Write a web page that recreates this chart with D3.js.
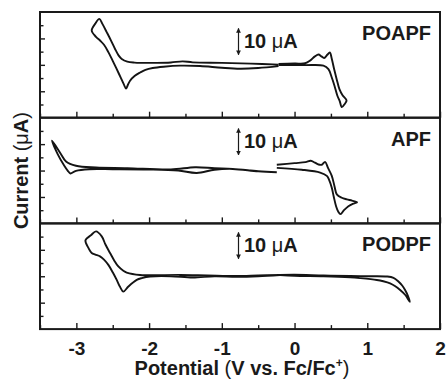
<!DOCTYPE html>
<html>
<head>
<meta charset="utf-8">
<script src="https://cdn.jsdelivr.net/npm/d3@7"></script>
<style>
  body { margin: 0; background: #fff; }
  text { font-family: "Liberation Sans", Arial, sans-serif; font-weight: bold; fill: #1a1a1a; }
</style>
</head>
<body>
<div id="graph"></div>
<script>
//Size of the picture.
let w = 446
let h = 381

//Plot frame.
let plotLeft = 40
let plotRight = 440
let plotTop = 12
let panelH = 105.7

//Panel names, top to bottom.
let panelNames = ["POAPF", "APF", "PODPF"]

//Tick values for the potential axis.
let xMajor = [-3, -2, -1, 0, 1, 2]
let xMinor = [-3.5, -2.5, -1.5, -0.5, 0.5, 1.5]

//Tick values for the current axis (uA).
let yMajor = [-10, 0, 10]
let yMinor = [-15, -5, 5, 15]

//Scale bar of each panel: centre of the 10 uA arrow (uA).
let scaleBarAt = [8.8, 10.9, 11.6]

//POAPF, scan from -0.2 V to negative and back.
let poapfNeg = [
  [-0.22, -0.5], [-0.5, -1.2], [-0.75, -1.45], [-1.0, -1.1], [-1.3, -0.45], [-1.574, -0.3],
  [-1.8, -0.7], [-1.95, -1.2], [-2.05, -1.9], [-2.124, -2.9], [-2.2, -4.2], [-2.262, -6.0],
  [-2.295, -7.8], [-2.317, -9.0], [-2.35, -7.2], [-2.423, -2.9], [-2.5, 1.5], [-2.56, 4.8],
  [-2.62, 7.6], [-2.675, 9.2], [-2.73, 10.6], [-2.789, 13.0], [-2.74, 15.6], [-2.684, 17.4],
  [-2.64, 15.4], [-2.583, 12.4], [-2.52, 9.0], [-2.468, 6.0], [-2.42, 3.6], [-2.376, 2.2],
  [-2.3, 1.2], [-2.2, 0.85], [-1.9, 0.75], [-1.7, 0.9], [-1.54, 1.33], [-1.4, 0.95],
  [-1.0, 0.75], [-0.6, 0.45], [-0.22, 0.1]
]

//POAPF, scan from -0.2 V to positive and back.
let poapfPos = [
  [-0.22, 0.3], [0.0, 0.5], [0.145, 0.6], [0.214, 1.6], [0.28, 3.2], [0.33, 3.9],
  [0.37, 3.2], [0.406, 2.6], [0.45, 3.8], [0.485, 4.7], [0.51, 2.5], [0.544, -1.6],
  [0.58, -5.5], [0.617, -9.2], [0.66, -11.5], [0.715, -13.5], [0.69, -14.8], [0.65, -16.0],
  [0.62, -13.6], [0.589, -11.7], [0.55, -8.0], [0.512, -4.8], [0.466, -1.6], [0.397, -0.3],
  [0.145, -0.1], [-0.22, -0.1]
]

//APF, negative scan.
let apfNeg = [
  [-0.244, -0.63], [-0.5, -0.3], [-0.85, 0.6], [-1.1, 0.3], [-1.345, -0.9], [-1.6, 0.0],
  [-2.0, 0.4], [-2.5, 0.5], [-2.822, 0.5], [-3.005, -0.1], [-3.083, -1.1], [-3.12, 0.0],
  [-3.166, 1.8], [-3.257, 6.2], [-3.335, 11.3], [-3.211, 6.2], [-3.142, 3.4], [-3.005, 1.8],
  [-2.73, 1.14], [-2.3, 0.9], [-1.7, 0.4], [-1.368, 1.27], [-1.1, 0.9], [-0.85, 0.63],
  [-0.5, -0.2], [-0.244, -0.63]
]

//APF, positive scan.
let apfPos = [
  [-0.244, 2.2], [0.0, 2.8], [0.15, 3.2], [0.223, 3.7], [0.28, 3.0], [0.33, 2.3],
  [0.375, 2.2], [0.42, 3.3], [0.46, 1.0], [0.512, -2.0], [0.55, -6.0], [0.581, -9.0],
  [0.65, -10.3], [0.719, -10.9], [0.79, -11.4], [0.86, -12.0], [0.8, -12.6], [0.741, -13.5],
  [0.68, -15.0], [0.632, -16.5], [0.6, -15.5], [0.571, -13.5], [0.54, -10.0], [0.512, -6.5],
  [0.475, -3.5], [0.444, -2.0], [0.352, -0.76], [0.1, 0.3], [-0.244, 1.0]
]

//PODPF, negative scan.
let podpfNeg = [
  [-0.2, 0.5], [-0.5, 0.0], [-0.8, -0.2], [-1.1, 0.0], [-1.4, -0.5], [-1.7, 0.0],
  [-1.987, -0.1], [-2.1, -0.7], [-2.17, -1.4], [-2.285, -3.9], [-2.354, -5.8], [-2.4, -4.0],
  [-2.445, -1.4], [-2.5, 1.5], [-2.56, 4.3], [-2.62, 6.3], [-2.675, 7.5], [-2.74, 8.2],
  [-2.789, 8.8], [-2.84, 11.0], [-2.875, 13.6], [-2.8, 15.5], [-2.73, 17.0], [-2.651, 15.1],
  [-2.6, 12.0], [-2.537, 8.8], [-2.48, 6.0], [-2.423, 3.7], [-2.35, 2.0], [-2.308, 1.4],
  [-2.124, 0.5], [-1.574, 0.5], [-1.2, 0.3], [-0.8, 0.1], [-0.5, 0.3], [-0.2, 0.5]
]

//PODPF, positive scan.
let podpfPos = [
  [-0.2, 0.5], [0.0, 0.6], [0.4, 0.3], [0.764, 0.1], [1.0, 0.0], [1.269, -0.1],
  [1.36, -0.6], [1.428, -2.0], [1.48, -3.5], [1.52, -5.2], [1.56, -7.5], [1.585, -9.7],
  [1.52, -7.0], [1.452, -5.2], [1.38, -3.7], [1.314, -2.7], [1.22, -1.9], [1.131, -1.4],
  [0.9, -0.7], [0.764, -0.4], [0.4, 0.0], [0.0, 0.2], [-0.2, 0.5]
]

//Scans belonging to each panel.
let panelScans = [[poapfNeg, poapfPos], [apfNeg, apfPos], [podpfNeg, podpfPos]]

const svg = d3.select("#graph")
              .append("svg")
              .attr("width", w)
              .attr("height", h)

//Arrow heads for the scale bars.
let defs = svg.append("defs")
defs.append("marker")
    .attr("id", "head")
    .attr("viewBox", "0 0 10 10")
    .attr("refX", 9)
    .attr("refY", 5)
    .attr("markerWidth", 4)
    .attr("markerHeight", 4)
    .attr("orient", "auto-start-reverse")
    .append("path")
    .attr("d", "M0,0 L10,5 L0,10 Z")
    .attr("fill", "#1a1a1a")

let x = d3.scaleLinear()
          .domain([-3.5, 2])
          .range([plotLeft, plotRight])

panelNames.forEach((name, i) => {
  let y0 = plotTop + i * panelH
  let y = d3.scaleLinear()
            .domain([-20, 20])
            .range([y0 + panelH, y0])

  let g = svg.append("g")

  //Curves.
  let line = d3.line()
               .x(d => x(d[0]))
               .y(d => y(d[1]))
               .curve(d3.curveCatmullRom.alpha(0.5))

  g.selectAll("path.scan")
   .data(panelScans[i])
   .enter()
   .append("path")
   .attr("class", "scan")
   .attr("d", line)
   .attr("fill", "none")
   .attr("stroke", "#141414")
   .attr("stroke-width", 1.9)
   .attr("stroke-linejoin", "round")

  //Ticks on the bottom edge, pointing inside.
  let xAxis = d3.axisBottom(x).tickValues(xMajor).tickSizeInner(-6).tickSizeOuter(0)
                .tickFormat(i == 2 ? (d => d) : "")
  let xAxisMinor = d3.axisBottom(x).tickValues(xMinor).tickSizeInner(-4).tickSizeOuter(0).tickFormat("")
  let gx = g.append("g").attr("transform", "translate(0," + (y0 + panelH) + ")").call(xAxis)
  g.append("g").attr("transform", "translate(0," + (y0 + panelH) + ")").call(xAxisMinor)

  //Ticks on the left edge, pointing inside.
  let yAxis = d3.axisLeft(y).tickValues(yMajor).tickSizeInner(-5).tickSizeOuter(0).tickFormat("")
  let yAxisMinor = d3.axisLeft(y).tickValues(yMinor).tickSizeInner(-3.5).tickSizeOuter(0).tickFormat("")
  g.append("g").attr("transform", "translate(" + plotLeft + ",0)").call(yAxis)
  g.append("g").attr("transform", "translate(" + plotLeft + ",0)").call(yAxisMinor)

  g.selectAll(".domain").remove()
  g.selectAll(".tick line").attr("stroke", "#1a1a1a").attr("stroke-width", 1.4)
  gx.selectAll(".tick text")
    .attr("y", 12)
    .attr("font-size", 19)
    .style("font-family", "'Liberation Sans', Arial, sans-serif")
    .style("font-weight", "bold")
    .attr("fill", "#1a1a1a")

  //Panel frame.
  g.append("rect")
   .attr("x", plotLeft)
   .attr("y", y0)
   .attr("width", plotRight - plotLeft)
   .attr("height", panelH)
   .attr("fill", "none")
   .attr("stroke", "#1a1a1a")
   .attr("stroke-width", 2)

  //Panel name.
  g.append("text")
   .attr("x", 431)
   .attr("y", y0 + 28)
   .attr("text-anchor", "end")
   .attr("font-size", 20)
   .text(name)

  //10 uA scale bar.
  let c = scaleBarAt[i]
  g.append("line")
   .attr("x1", 238.5)
   .attr("x2", 238.5)
   .attr("y1", y(c + 5))
   .attr("y2", y(c - 5))
   .attr("stroke", "#1a1a1a")
   .attr("stroke-width", 1.2)
   .attr("marker-start", "url(#head)")
   .attr("marker-end", "url(#head)")

  let t = g.append("text")
           .attr("x", 244)
           .attr("y", y(c) + 6.5)
           .attr("font-size", 20)
  t.append("tspan").text("10 ")
  t.append("tspan").style("font-weight", "normal").text("\u03bc")
  t.append("tspan").text("A")
})

//Axis titles.
let xt = svg.append("text")
            .attr("x", 242)
            .attr("y", 375)
            .attr("text-anchor", "middle")
            .attr("font-size", 20)
xt.append("tspan").text("Potential ")
xt.append("tspan").style("font-weight", "normal").text("(")
xt.append("tspan").text("V vs. Fc/Fc")
xt.append("tspan").attr("dy", -8).attr("font-size", 12).text("+")
xt.append("tspan").attr("dy", 8).style("font-weight", "normal").text(")")

let yt = svg.append("text")
            .attr("transform", "translate(28," + (plotTop + 1.5 * panelH) + ") rotate(-90)")
            .attr("text-anchor", "middle")
            .attr("font-size", 20)
yt.append("tspan").text("Current ")
yt.append("tspan").style("font-weight", "normal").text("(\u03bc")
yt.append("tspan").text("A")
yt.append("tspan").style("font-weight", "normal").text(")")
</script>
</body>
</html>
